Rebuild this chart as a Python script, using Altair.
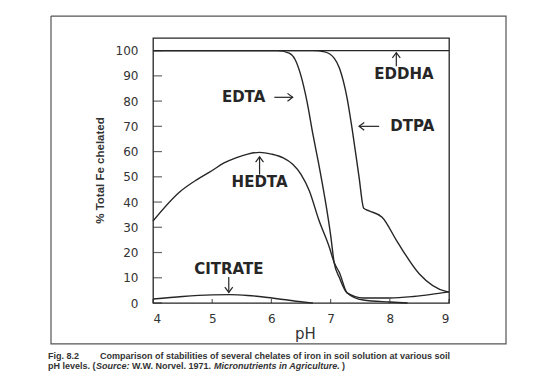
import altair as alt
import pandas as pd

# ---- data ----
eddha_ph = [4.0, 9.0]
eddha_val = [100, 100]

edta_ph = [4.0, 6.1, 6.3, 6.4, 6.5, 6.6, 6.7, 6.8, 6.9, 7.0, 7.06, 7.15, 7.28, 7.55, 8.0, 8.4, 8.7, 9.0]
edta_val = [100, 100, 99, 96.5, 90, 80, 67, 55, 42, 27, 16, 10, 4, 2, 2, 2.6, 3.4, 4.4]

dtpa_ph = [4.0, 6.7, 6.9, 7.06, 7.15, 7.28, 7.37, 7.48, 7.56, 7.65, 7.87, 8.12, 8.5, 8.95, 9.0]
dtpa_val = [100, 100, 99.5, 97, 93, 81, 68, 50, 37.5, 36.5, 34, 24.5, 11.5, 4.6, 4.4]

hedta_ph = [4.0, 4.45, 4.75, 5.0, 5.2, 5.4, 5.6, 5.8, 6.0, 6.2, 6.36, 6.5, 6.64, 6.8, 6.98, 7.06, 7.15, 7.28, 7.55, 8.0, 8.3]
hedta_val = [32.5, 44, 49, 52.5, 55.5, 57.5, 59, 59.7, 59, 57.5, 55, 51, 44.5, 33, 22, 16, 12, 4, 1.2, 0.4, 0]

citrate_ph = [4.0, 4.5, 5.0, 5.3, 5.6, 5.9, 6.2, 6.5, 6.7]
citrate_val = [1.6, 2.6, 3.2, 3.3, 3.0, 2.3, 1.4, 0.5, 0]

x_ticks = [4, 5, 6, 7, 8, 9]
y_ticks = [0, 10, 20, 30, 40, 50, 60, 70, 80, 90, 100]

label_text = ["EDDHA", "EDTA", "DTPA", "HEDTA", "CITRATE"]
label_ph = [8.24, 5.53, 8.38, 5.8, 5.28]
label_val = [90.7, 81.5, 70, 48.1, 13.5]

arrow_ph1 = [8.11, 6.05, 7.82, 5.8, 5.28]
arrow_val1 = [93.8, 81.5, 70, 50.9, 10.3]
arrow_ph2 = [8.11, 6.36, 7.48, 5.8, 5.28]
arrow_val2 = [99.2, 81.5, 70, 57.9, 4.2]
arrow_angle = [270, 0, 180, 270, 90]

# outer figure box, in the chart's own pH / % units
box_ph = [2.277, 9.963]
box_val = [-16.2, 113.7]

caption_text = [
    "Fig. 8.2",
    "Comparison of stabilities of several chelates of iron in soil solution at various soil",
    "pH levels. (",
    "Source:",
    "W.W. Norvel. 1971.",
    "Micronutrients in Agriculture.",
    ")",
]

# ---- tables ----
series = pd.concat([
    pd.DataFrame({"pH": eddha_ph, "v": eddha_val, "s": "EDDHA"}),
    pd.DataFrame({"pH": edta_ph, "v": edta_val, "s": "EDTA"}),
    pd.DataFrame({"pH": dtpa_ph, "v": dtpa_val, "s": "DTPA"}),
    pd.DataFrame({"pH": hedta_ph, "v": hedta_val, "s": "HEDTA"}),
    pd.DataFrame({"pH": citrate_ph, "v": citrate_val, "s": "CITRATE"}),
], ignore_index=True)

labels = pd.DataFrame({"t": label_text, "pH": label_ph, "v": label_val})
arrows = pd.DataFrame({"x1": arrow_ph1, "y1": arrow_val1, "x2": arrow_ph2,
                       "y2": arrow_val2, "ang": arrow_angle})
xt = pd.DataFrame({"x": x_ticks})
yt = pd.DataFrame({"y": y_ticks})
box_path = pd.DataFrame({
    "bx": [box_ph[0], box_ph[1], box_ph[1], box_ph[0], box_ph[0]],
    "by": [box_val[1], box_val[1], box_val[0], box_val[0], box_val[1]],
    "o": [0, 1, 2, 3, 4],
})

INK = "#262626"
xs = alt.Scale(domain=[4, 9], nice=False, zero=False)
ys = alt.Scale(domain=[0, 105], nice=False, zero=False)

x_axis = alt.Axis(values=x_ticks, format="d", labelOverlap=False, ticks=False, tickSize=0,
                  domain=False, grid=False,
                  labelFont="DejaVu Sans", labelFontSize=12, labelColor="#333",
                  labelPadding=10, title="pH", titleFont="DejaVu Sans", titleFontSize=15,
                  titleFontWeight="normal", titleColor="#333", titleX=152, titleY=30,
                  titleBaseline="middle", titleAlign="center")
y_axis = alt.Axis(values=y_ticks, format="d", labelOverlap=False, ticks=False, tickSize=0,
                  domain=False, grid=False,
                  labelFont="DejaVu Sans", labelFontSize=12, labelColor="#333",
                  labelPadding=15, title="% Total Fe chelated",
                  titleFont="Liberation Sans", titleFontSize=11.5,
                  titleFontWeight="bold", titleColor="#333", titleX=-53, titleY=132,
                  titleAngle=270, titleBaseline="middle", titleAlign="center")


def X(field=None, datum=None):
    if datum is not None:
        return alt.X(datum=datum, type="quantitative", scale=xs, axis=x_axis, title="pH")
    return alt.X(field, type="quantitative", scale=xs, axis=x_axis, title="pH")


def Y(field=None, datum=None):
    t = "% Total Fe chelated"
    if datum is not None:
        return alt.Y(datum=datum, type="quantitative", scale=ys, axis=y_axis, title=t)
    return alt.Y(field, type="quantitative", scale=ys, axis=y_axis, title=t)


box = alt.Chart(box_path).mark_line(color="#555", strokeWidth=1.2, clip=False).encode(
    x=X("bx"), y=Y("by"), order="o:Q")

lines = alt.Chart(series).mark_line(color=INK, strokeWidth=1.4, interpolate="monotone").encode(
    x=X("pH"), y=Y("v"), detail="s:N")

yticks = alt.Chart(yt).mark_tick(orient="horizontal", size=9, thickness=1.2,
                                 color=INK, xOffset=4.5).encode(
    x=X(datum=4), y=Y("y"))
xticks = alt.Chart(xt).mark_tick(orient="vertical", size=4, thickness=1.2,
                                 color=INK, yOffset=-2).encode(
    x=X("x"), y=Y(datum=0))

texts = alt.Chart(labels).mark_text(font="DejaVu Sans", fontWeight="bold", fontSize=15,
                                    color=INK, align="center", baseline="middle").encode(
    x=X("pH"), y=Y("v"), text="t:N")

shafts = alt.Chart(arrows).mark_rule(color=INK, strokeWidth=1.2).encode(
    x=X("x1"), y=Y("y1"), x2="x2:Q", y2="y2:Q")
heads = alt.Chart(arrows).mark_point(shape="M-1,-0.75L0,0L-1,0.75", size=110,
                                     filled=False, color=INK, strokeWidth=1.2,
                                     opacity=1).encode(
    x=X("x2"), y=Y("y2"), angle=alt.Angle("ang:Q", scale=None))

cap_font = "Liberation Sans"
def cap(i, x, y, weight="bold", style="normal", size=9):
    return alt.Chart(pd.DataFrame({"t": [caption_text[i]]})).mark_text(
        font=cap_font, fontSize=size, fontWeight=weight, fontStyle=style,
        color="#333", align="left", baseline="middle").encode(
        x=alt.value(x), y=alt.value(y), text="t:N")

caps = [
    cap(0, -105, 317.5),
    cap(1, -53, 317.5),
    cap(2, -105, 327.5),
    cap(3, -57, 327.5, style="italic"),
    cap(4, -21, 327.5),
    cap(5, 61, 327.5, style="italic"),
    cap(6, 189, 327.5),
]

chart = alt.layer(box, lines, yticks, xticks, shafts, heads, texts, *caps).properties(
    width=296, height=265,
    autosize=alt.AutoSizeParams(type="none"),
    padding={"left": 145, "top": 30, "right": 90, "bottom": 70},
    background="white",
).configure_view(stroke=INK, strokeWidth=1.3, clip=False)

chart.save("out.html", embed_options={"renderer": "svg", "actions": False})
